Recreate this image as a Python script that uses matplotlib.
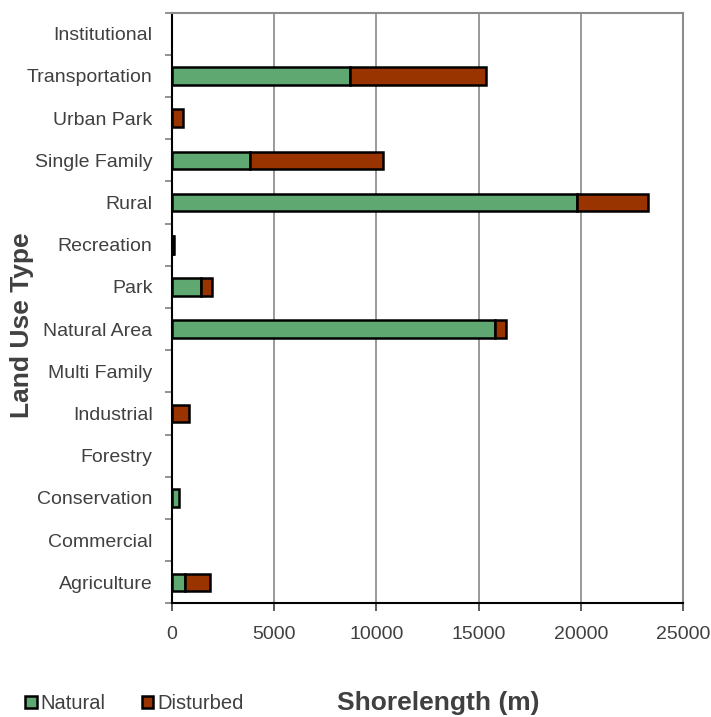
import matplotlib
matplotlib.use('Agg')
import matplotlib.pyplot as plt
from matplotlib.patches import Patch
import numpy as np

# land use categories, bottom to top
categories = ['Agriculture', 'Commercial', 'Conservation', 'Forestry', 'Industrial',
              'Multi Family', 'Natural Area', 'Park', 'Recreation', 'Rural',
              'Single Family', 'Urban Park', 'Transportation', 'Institutional']
natural = [650, 0, 320, 0, 0, 0, 15800, 1420, 60, 19820, 3830, 0, 8720, 0]
disturbed = [1220, 0, 0, 0, 850, 0, 560, 530, 60, 3460, 6500, 530, 6630, 0]

x_ticks = [0, 5000, 10000, 15000, 20000, 25000]

GREEN = '#60a872'
RUST = '#993300'
TEXT = '#404040'

plt.rcParams['font.family'] = ['Liberation Sans', 'DejaVu Sans']

fig = plt.figure(figsize=(7.11, 7.17), dpi=100)
ax = fig.add_axes([0.2419, 0.1583, 0.7187, 0.8240])

y = np.arange(len(categories))
nat = np.array(natural, dtype=float)
dis = np.array(disturbed, dtype=float)

# skip empty segments so they don't leave an outline at zero
m = nat > 0
ax.barh(y[m], nat[m], height=0.42, color=GREEN, edgecolor='black', linewidth=1.8, zorder=3)
m = dis > 0
ax.barh(y[m], dis[m], left=nat[m], height=0.42, color=RUST, edgecolor='black',
        linewidth=1.8, zorder=3)

ax.set_xlim(0, 25000)
ax.set_ylim(-0.5, len(categories) - 0.5)
ax.set_xticks(x_ticks)
ax.set_xticklabels([str(t) for t in x_ticks], fontsize=14, color=TEXT)
ax.xaxis.grid(True, color='#7f7f7f', linewidth=1.1, zorder=0)

# tick marks between categories, labels centred on bars
ax.set_yticks(np.arange(len(categories) + 1) - 0.5)
ax.set_yticklabels([])
ax.set_yticks(y, minor=True)
ax.set_yticklabels(categories, minor=True, fontsize=14, color=TEXT)
ax.tick_params(axis='y', which='minor', length=0, pad=14)
ax.tick_params(axis='y', which='major', length=5, color='#808080', width=1.2)
ax.tick_params(axis='x', length=6, color='#404040', width=1.2, pad=10)

for side in ('top', 'right'):
    ax.spines[side].set_color('#8c8c8c')
    ax.spines[side].set_linewidth(1.5)
for side in ('left', 'bottom'):
    ax.spines[side].set_color('black')
    ax.spines[side].set_linewidth(1.5)

fig.text(0.031, 0.547, 'Land Use Type', fontsize=19, fontweight='bold', color=TEXT,
         rotation=90, ha='center', va='center')
fig.text(0.617, 0.019, 'Shorelength (m)', fontsize=19, fontweight='bold', color=TEXT,
         ha='center', va='center')

handles = [Patch(facecolor=GREEN, edgecolor='black', linewidth=1.8, label='Natural'),
           Patch(facecolor=RUST, edgecolor='black', linewidth=1.8, label='Disturbed')]
fig.legend(handles=handles, loc='center left', bbox_to_anchor=(0.016, 0.019), ncol=2,
           frameon=False, fontsize=14.5, handlelength=0.55, handleheight=0.55,
           handletextpad=0.2, columnspacing=1.8, labelcolor=TEXT, borderpad=0.2)

fig.savefig('out.png', dpi=100)
